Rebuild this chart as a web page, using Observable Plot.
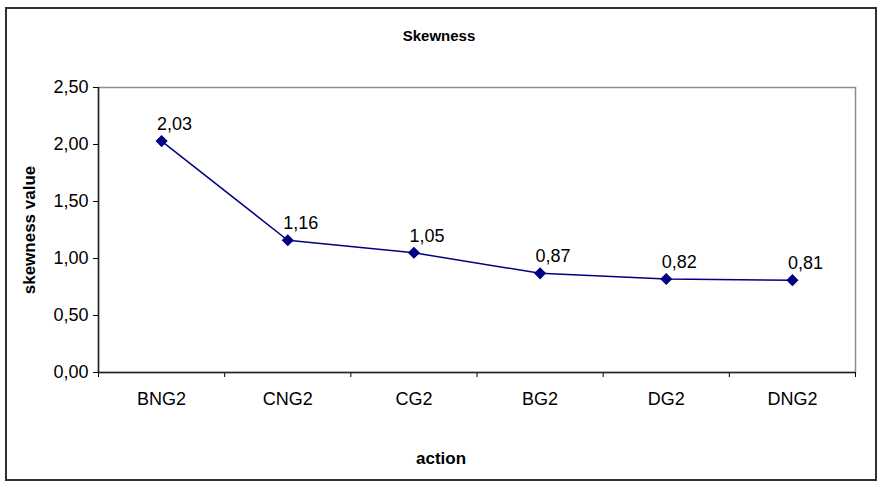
<!DOCTYPE html>
<html>
<head>
<meta charset="utf-8">
<script src="https://cdn.jsdelivr.net/npm/d3@7"></script>
<script src="https://cdn.jsdelivr.net/npm/@observablehq/plot@0.6"></script>
<style>
  html, body { margin: 0; padding: 0; background: #fff; }
  #wrap { position: relative; width: 881px; height: 486px; overflow: hidden; font-family: "Liberation Sans", Arial, sans-serif; }
  #border { position: absolute; left: 5px; top: 7px; width: 868px; height: 470px; border: 2px solid #303030; }
  #chart { position: absolute; left: 0; top: 0; }
  .lbl { position: absolute; font-weight: bold; color: #000; transform: translateX(-50%); white-space: nowrap; }
</style>
</head>
<body>
<div id="wrap">
  <div id="border"></div>
  <div id="chart"></div>
  <div class="lbl" id="title" style="left:439px; top:27px; font-size:15px;">Skewness</div>
  <div class="lbl" id="xlabel" style="left:441px; top:449px; font-size:17px;">action</div>
</div>
<script>
const categories = ["BNG2", "CNG2", "CG2", "BG2", "DG2", "DNG2"];
const values = [2.03, 1.16, 1.05, 0.87, 0.82, 0.81];
const yTicks = [0, 0.5, 1.0, 1.5, 2.0, 2.5];
const yTitle = "skewness value";

const comma = v => d3.format(".2f")(v).replace(".", ",");
const data = categories.map((c, i) => ({i, c, v: values[i]}));
const idx = categories.map((c, i) => i);
const bounds = d3.range(-0.5, categories.length, 1);

const chart = Plot.plot({
  width: 881,
  height: 486,
  marginLeft: 98,
  marginRight: 26,
  marginTop: 87,
  marginBottom: 114,
  style: {fontFamily: "'Liberation Sans', Arial, sans-serif", fontSize: "18px", background: "transparent", color: "#000"},
  x: {type: "linear", domain: [-0.5, categories.length - 0.5]},
  y: {domain: [0, 2.5]},
  marks: [
    Plot.frame({stroke: "#8c8c8c", strokeWidth: 1.5}),
    Plot.axisY({ticks: yTicks, tickFormat: comma, tickSize: 5, tickPadding: 5, fontSize: 18, label: yTitle, labelAnchor: "center", labelOffset: 76, labelArrow: false}),
    Plot.axisX({ticks: bounds, tickFormat: () => "", tickSize: 5, label: null}),
    Plot.axisX({ticks: idx, tickFormat: i => categories[i], tickSize: 0, tickPadding: 20, fontSize: 18, label: null}),
    Plot.ruleY([0], {stroke: "#222", strokeWidth: 1.5}),
    Plot.ruleX([-0.5], {stroke: "#222", strokeWidth: 1.5}),
    Plot.line(data, {x: "i", y: "v", stroke: "#000080", strokeWidth: 1.5}),
    Plot.dot(data, {x: "i", y: "v", symbol: "square", r: 4, fill: "#000080", stroke: "#000080", rotate: 45}),
    Plot.text(data, {x: "i", y: "v", text: d => comma(d.v), dx: 13, dy: -17, fontSize: 18, fill: "#000"})
  ]
});
document.getElementById("chart").appendChild(chart);
chart.querySelectorAll("[aria-label='y-axis label'] text").forEach(t => {
  t.setAttribute("font-weight", "bold");
  t.setAttribute("font-size", "17");
});
</script>
</body>
</html>
